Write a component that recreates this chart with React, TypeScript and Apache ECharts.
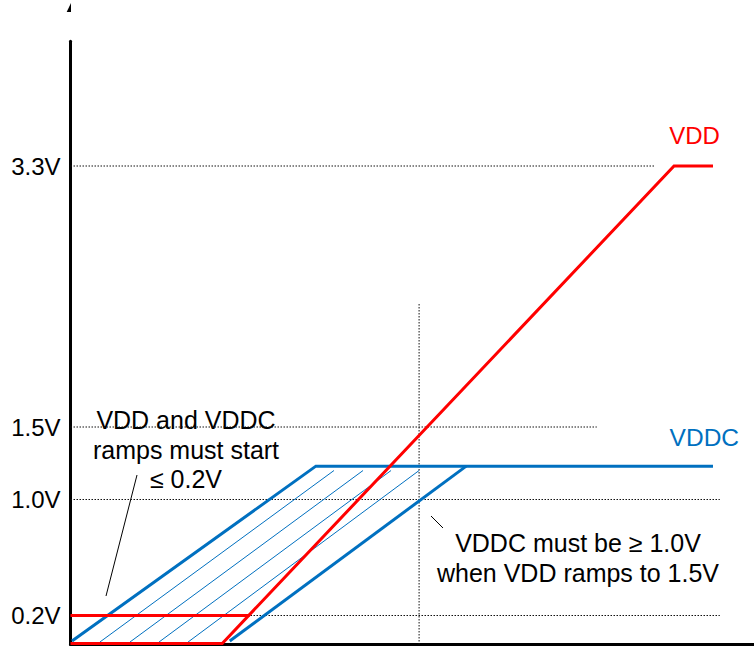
import React, { useEffect, useRef } from "react";
import * as echarts from "echarts";

// ---- data (time in arbitrary units 0..100, voltage in V) ----
const yTickValues = [0.2, 1.0, 1.5, 3.3];

const guideLevels = [3.3, 1.5, 1.0, 0.2];
const guideEnds = [85.5, 77.0, 95.0, 95.0];
const vGuideX = 51.0;
const vGuideTop = 2.35;

const vddX = [0, 22.2, 88.3, 94.0];
const vddY = [0.007, 0.007, 3.3, 3.3];
const vddStartX = [0, 26.2];
const vddStartY = [0.2, 0.2];

const vddcEarlyX = [0.22, 35.9, 94.0];
const vddcEarlyY = [0.024, 1.23, 1.23];
const vddcLateX = [23.3, 57.9];
const vddcLateY = [0.024, 1.23];

const hatchBottomX = [4.3, 8.7, 12.95, 17.2];
const hatchTopX = [38.55, 42.8, 46.9, 51.0];
const hatchBottomY = 0.017;
const hatchTopY = 1.2;

const RED = "#FF0000";
const BLUE = "#0070C0";
const FONT = "'Liberation Sans', Arial, Helvetica, sans-serif";

const zip = (xs: number[], ys: number[]) => xs.map((x, i) => [x, ys[i]]);

export default function App() {
  const ref = useRef<HTMLDivElement>(null);
  useEffect(() => {
    document.body.style.margin = "0";
    if (!ref.current) return;
    const chart = echarts.init(ref.current, null, { renderer: "svg" });

    const dotted = { color: "#111", width: 1, type: [1.5, 1.5] };
    const series: any[] = [];
    guideLevels.forEach((lv, i) => {
      series.push({
        type: "line",
        data: [
          [0, lv],
          [guideEnds[i], lv],
        ],
        symbol: "none",
        silent: true,
        z: 1,
        lineStyle: dotted,
      });
    });
    series.push({
      type: "line",
      data: [
        [vGuideX, 0],
        [vGuideX, vGuideTop],
      ],
      symbol: "none",
      z: 1,
      lineStyle: dotted,
    });
    hatchBottomX.forEach((bx, i) => {
      series.push({
        type: "line",
        data: [
          [bx, hatchBottomY],
          [hatchTopX[i], hatchTopY],
        ],
        symbol: "none",
        z: 2,
        lineStyle: { color: BLUE, width: 1 },
      });
    });
    series.push({
      type: "line",
      name: "VDDC early",
      data: zip(vddcEarlyX, vddcEarlyY),
      symbol: "none",
      z: 3,
      lineStyle: { color: BLUE, width: 3, join: "miter" },
    });
    series.push({
      type: "line",
      name: "VDDC late",
      data: zip(vddcLateX, vddcLateY),
      symbol: "none",
      z: 3,
      lineStyle: { color: BLUE, width: 3 },
    });
    series.push({
      type: "line",
      name: "VDD start",
      data: zip(vddStartX, vddStartY),
      symbol: "none",
      z: 4,
      lineStyle: { color: RED, width: 3 },
    });
    series.push({
      type: "line",
      name: "VDD",
      data: zip(vddX, vddY),
      symbol: "none",
      z: 4,
      lineStyle: { color: RED, width: 3, join: "miter" },
    });

    chart.setOption({
      animation: false,
      grid: { left: 70.5, right: 0, top: 41.3, bottom: 1.5, containLabel: false },
      xAxis: {
        type: "value",
        min: 0,
        max: 100,
        axisLine: { show: true, lineStyle: { color: "#000", width: 3 } },
        axisTick: { show: false },
        axisLabel: { show: false },
        splitLine: { show: false },
      },
      yAxis: {
        type: "value",
        min: 0,
        max: 4.16,
        axisLine: { show: true, lineStyle: { color: "#000", width: 3 } },
        axisTick: { show: false },
        splitLine: { show: false },
        axisLabel: {
          show: true,
          customValues: yTickValues,
          formatter: (v: number) => v.toFixed(1) + "V",
          fontSize: 24,
          fontFamily: FONT,
          color: "#000",
          margin: 10,
        },
      },
      series,
      graphic: [
        {
          type: "polygon",
          shape: { points: [[66.7, 12], [71, 3], [71, 12]] },
          style: { fill: "#000" },
        },
        {
          type: "line",
          shape: { x1: 137, y1: 475, x2: 106, y2: 596 },
          style: { stroke: "#000", lineWidth: 1 },
        },
        {
          type: "line",
          shape: { x1: 431, y1: 516, x2: 443, y2: 528 },
          style: { stroke: "#000", lineWidth: 1 },
        },
        {
          type: "text",
          x: 186,
          y: 449.5,
          style: {
            text: "VDD and VDDC\nramps must start\n≤ 0.2V",
            fontSize: 25,
            fontFamily: FONT,
            fill: "#000",
            align: "center",
            verticalAlign: "middle",
            lineHeight: 29.7,
          },
        },
        {
          type: "text",
          x: 578,
          y: 557.5,
          style: {
            text: "VDDC must be ≥ 1.0V\nwhen VDD ramps to 1.5V",
            fontSize: 25,
            fontFamily: FONT,
            fill: "#000",
            align: "center",
            verticalAlign: "middle",
            lineHeight: 30,
          },
        },
        {
          type: "text",
          x: 694.5,
          y: 135.2,
          style: {
            text: "VDD",
            fontSize: 24,
            fontFamily: FONT,
            fill: RED,
            align: "center",
            verticalAlign: "middle",
          },
        },
        {
          type: "text",
          x: 704.3,
          y: 437.5,
          style: {
            text: "VDDC",
            fontSize: 24.5,
            fontFamily: FONT,
            fill: BLUE,
            align: "center",
            verticalAlign: "middle",
          },
        },
      ],
    });
    return () => chart.dispose();
  }, []);
  return <div ref={ref} style={{ width: 754, height: 646 }} />;
}
